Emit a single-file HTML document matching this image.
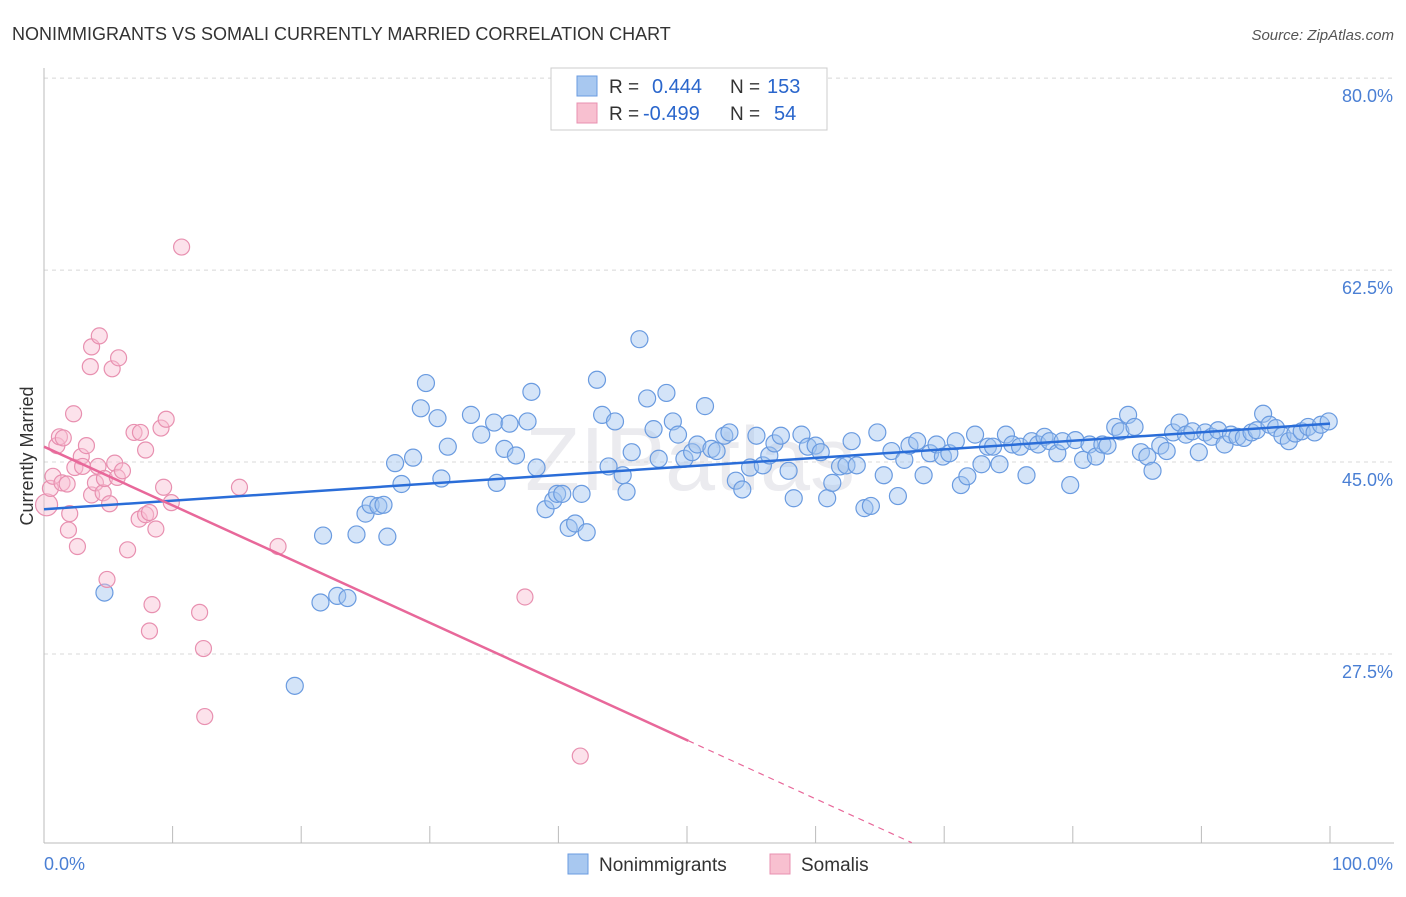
<!DOCTYPE html>
<html><head><meta charset="utf-8">
<style>
body{margin:0;background:#fff;font-family:"Liberation Sans",sans-serif;}
svg text{font-family:"Liberation Sans",sans-serif;}
</style></head>
<body>
<svg id="chart" width="1406" height="892" xmlns="http://www.w3.org/2000/svg">
<text x="12" y="40" font-size="18" fill="#333">NONIMMIGRANTS VS SOMALI CURRENTLY MARRIED CORRELATION CHART</text>
<text x="1394" y="40" font-size="15" fill="#555" text-anchor="end" font-style="italic">Source: ZipAtlas.com</text>
<text x="690" y="490" font-size="90" fill="#ebebef" text-anchor="middle" font-family="Liberation Serif">ZIPatlas</text>
<g id="grid"></g>
<g id="axes"></g>
<g id="pts"></g>
<g id="trends"></g>
<text transform="translate(33,456) rotate(-90)" font-size="18" fill="#333" text-anchor="middle">Currently Married</text>
<text x="44" y="870" font-size="18" fill="#4a7fd4">0.0%</text>
<text x="1393" y="870" font-size="18" fill="#4a7fd4" text-anchor="end">100.0%</text>
<g>
<rect x="551" y="68" width="276" height="62" fill="#fff" stroke="#ccc"/>
<rect x="577" y="76" width="20" height="20" fill="#a8c8f0" stroke="#6a9be0"/>
<rect x="577" y="103" width="20" height="20" fill="#f8c0d0" stroke="#e890b0"/>
<text x="609" y="93" font-size="19" fill="#333">R =</text>
<text x="652" y="93" font-size="20" fill="#2a66cc">0.444</text>
<text x="730" y="93" font-size="19" fill="#333">N =</text>
<text x="767" y="93" font-size="20" fill="#2a66cc">153</text>
<text x="609" y="120" font-size="19" fill="#333">R =</text>
<text x="643" y="120" font-size="20" fill="#2a66cc">-0.499</text>
<text x="730" y="120" font-size="19" fill="#333">N =</text>
<text x="774" y="120" font-size="20" fill="#2a66cc">54</text>
</g>
<g>
<rect x="568" y="854" width="20" height="20" fill="#a8c8f0" stroke="#6a9be0"/>
<text x="599" y="871" font-size="19" fill="#333">Nonimmigrants</text>
</g>
<g>
<rect x="770" y="854" width="20" height="20" fill="#f8c0d0" stroke="#e890b0"/>
<text x="801" y="871" font-size="19" fill="#333">Somalis</text>
</g>
</svg>
<script>
const yTicks=[80,62.5,45,27.5];
const yTickLabels=["80.0%","62.5%","45.0%","27.5%"];
const xTicks=[0,10,20,30,40,50,60,70,80,90,100];
const blueX=[4.7,19.5,21.5,21.7,22.8,23.6,24.3,25.0,25.4,26.0,26.4,26.7,27.3,27.8,28.7,29.3,29.7,30.6,30.9,31.4,33.2,34.0,35.0,35.2,35.8,36.2,36.7,37.6,37.9,38.3,39.0,39.6,39.9,40.3,40.8,41.3,41.8,42.2,43.0,43.4,43.9,44.4,45.0,45.3,45.7,46.3,46.9,47.4,47.8,48.4,48.9,49.3,49.8,50.4,50.8,51.4,51.9,52.3,52.9,53.3,53.8,54.3,54.9,55.4,55.9,56.4,56.8,57.3,57.9,58.3,58.9,59.4,60.0,60.4,60.9,61.3,61.9,62.4,62.8,63.2,63.8,64.3,64.8,65.3,65.9,66.4,66.9,67.3,67.9,68.4,68.9,69.4,69.9,70.4,70.9,71.3,71.8,72.4,72.9,73.4,73.8,74.3,74.8,75.3,75.9,76.4,76.8,77.3,77.8,78.2,78.8,79.2,79.8,80.2,80.8,81.3,81.8,82.3,82.7,83.3,83.7,84.3,84.8,85.3,85.8,86.2,86.8,87.3,87.8,88.3,88.8,89.3,89.8,90.3,90.8,91.3,91.8,92.3,92.8,93.3,93.9,94.3,94.8,95.3,95.8,96.3,96.8,97.3,97.8,98.3,98.8,99.3,99.9];
const blueY=[33.1,24.6,32.2,38.3,32.8,32.6,38.4,40.3,41.1,41.0,41.1,38.2,44.9,43.0,45.4,49.9,52.2,49.0,43.5,46.4,49.3,47.5,48.6,43.1,46.2,48.5,45.6,48.7,51.4,44.5,40.7,41.5,42.1,42.1,39.0,39.4,42.1,38.6,52.5,49.3,44.6,48.7,43.8,42.3,45.9,56.2,50.8,48.0,45.3,51.3,48.7,47.5,45.3,45.9,46.6,50.1,46.2,46.0,47.4,47.7,43.3,42.5,44.5,47.4,44.7,45.6,46.7,47.4,44.2,41.7,47.5,46.4,46.5,45.9,41.7,43.1,44.6,44.7,46.9,44.7,40.8,41.0,47.7,43.8,46.0,41.9,45.2,46.5,46.9,43.8,45.8,46.6,45.5,45.8,46.9,42.9,43.7,47.5,44.8,46.4,46.4,44.8,47.5,46.6,46.4,43.8,46.9,46.6,47.3,46.9,45.8,46.9,42.9,47.0,45.2,46.6,45.5,46.6,46.5,48.2,47.8,49.3,48.2,45.9,45.5,44.2,46.5,46.0,47.7,48.6,47.5,47.8,45.9,47.7,47.3,47.9,46.6,47.5,47.3,47.2,47.7,47.9,49.4,48.4,48.1,47.4,46.9,47.6,47.8,48.2,47.7,48.4,48.7];
const pinkX=[0.2,0.5,0.7,1.0,1.2,1.5,1.4,1.8,2.0,1.9,2.3,2.6,2.4,2.9,3.0,3.3,3.6,3.7,3.7,4.0,4.3,4.2,4.6,4.7,4.9,5.1,5.3,5.5,5.8,5.7,6.1,6.5,7.0,7.4,7.5,7.9,7.9,8.2,8.2,8.4,8.7,9.1,9.3,9.5,9.9,10.7,12.1,12.4,12.5,15.2,18.2,37.4,41.7];
const pinkY=[41.1,42.6,43.7,46.5,47.3,47.2,43.1,43.0,40.3,38.8,49.4,37.3,44.5,45.5,44.6,46.5,53.7,55.5,42.0,43.1,56.5,44.6,42.2,43.5,34.3,41.2,53.5,44.9,54.5,43.6,44.2,37.0,47.7,39.8,47.7,40.2,46.1,40.4,29.6,32.0,38.9,48.1,42.7,48.9,41.3,64.6,31.3,28.0,21.8,42.7,37.3,32.7,18.2];
const blueTrend=[40.7,48.5];
const pinkTrend=[46.4,-0.535];
const pinkSolidEnd=50.1;

const L=44,R=1330,Y0=955.7,YS=10.97;
const sx=v=>L+(R-L)*v/100;
const sy=v=>Y0-v*YS;
const NS="http://www.w3.org/2000/svg";
function mk(t,a,p){const e=document.createElementNS(NS,t);for(const k in a)e.setAttribute(k,a[k]);p.appendChild(e);return e;}
const grid=document.getElementById('grid'),axes=document.getElementById('axes'),pts=document.getElementById('pts'),tr=document.getElementById('trends');
yTicks.forEach((v,i)=>{
  const l=mk('line',{x1:44,x2:1394,y1:sy(v),y2:sy(v),stroke:'#d8d8d8','stroke-dasharray':'4,4'},grid);
  
  
  const t=mk('text',{x:1393,y:sy(v)+24,'font-size':18,fill:'#4a7fd4','text-anchor':'end'},grid);
  t.textContent=yTickLabels[i];
  
  
});
const ya=mk('line',{x1:44,x2:44,y1:68,y2:843,stroke:'#bbb'},axes);


const xa=mk('line',{x1:44,x2:1394,y1:843,y2:843,stroke:'#bbb'},axes);


xTicks.forEach(v=>{
  const t=mk('line',{x1:sx(v),x2:sx(v),y1:826,y2:843,stroke:'#bbb'},axes);
  
  
});
blueX.forEach((x,i)=>{
  const c=mk('circle',{cx:sx(x),cy:sy(blueY[i]),r:8.5,fill:'rgba(160,195,240,0.45)',stroke:'#6a9be0','stroke-width':1.2},pts);
  
  
});
pinkX.forEach((x,i)=>{
  const c=mk('circle',{cx:sx(x),cy:sy(pinkY[i]),r:i==0?11:8,fill:'rgba(248,190,210,0.45)',stroke:'#e890b0','stroke-width':1.2},pts);
  
  
});
const bt=mk('line',{x1:sx(0),y1:sy(blueTrend[0]),x2:sx(100),y2:sy(blueTrend[1]),stroke:'#2a6dd8','stroke-width':2.5},tr);


const pe=pinkTrend[0]+pinkTrend[1]*pinkSolidEnd;
const pt=mk('line',{x1:sx(0),y1:sy(pinkTrend[0]),x2:sx(pinkSolidEnd),y2:sy(pe),stroke:'#e8689a','stroke-width':2.5},tr);


const xEnd=(10.3-pinkTrend[0])/pinkTrend[1];
const pd=mk('line',{x1:sx(pinkSolidEnd),y1:sy(pe),x2:sx(xEnd),y2:sy(10.3),stroke:'#e8689a','stroke-width':1.2,'stroke-dasharray':'6,5'},tr);


</script>
</body></html>
